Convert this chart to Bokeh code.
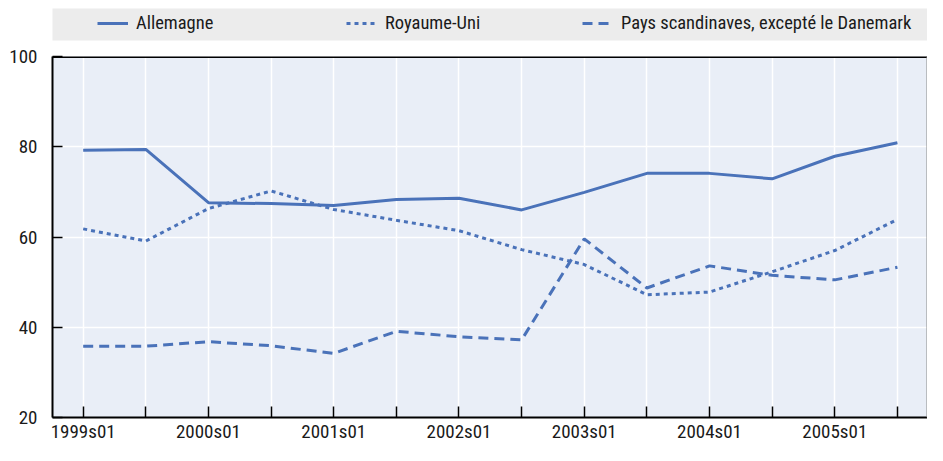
import numpy as np
from bokeh.plotting import figure
from bokeh.models import Range1d, FixedTicker, Legend, LegendItem, Span
from bokeh.layouts import column
from bokeh.embed import file_html
from bokeh.resources import INLINE

periods = ["1999s01", "1999s02", "2000s01", "2000s02", "2001s01", "2001s02", "2002s01",
           "2002s02", "2003s01", "2003s02", "2004s01", "2004s02", "2005s01", "2005s02"]
allemagne = [79.2, 79.4, 67.6, 67.4, 67.0, 68.3, 68.6, 66.0, 69.9, 74.1, 74.1, 72.9, 77.9, 80.9]
royaume_uni = [61.8, 59.1, 66.3, 70.2, 66.1, 63.7, 61.4, 57.2, 53.9, 47.2, 47.8, 52.3, 57.0, 63.9]
scandinaves = [35.8, 35.8, 36.8, 35.9, 34.2, 39.1, 37.9, 37.2, 59.6, 48.7, 53.6, 51.5, 50.5, 53.3]
series_names = ["Allemagne", "Royaume-Uni", "Pays scandinaves, excepté le Danemark"]
y_ticks = [20, 40, 60, 80, 100]

FONT = "Roboto Condensed"
BLUE = "#4a72b9"
TEXT = "#1a1a1a"
dashes = ["solid", "4 4", "10 6"]
W = 927
x = list(np.arange(len(periods)))
series = [allemagne, royaume_uni, scandinaves]

# ---------- legend band ----------
lg = figure(width=W, height=44, output_backend="svg", toolbar_location=None,
            x_axis_location=None, y_axis_location=None,
            x_range=Range1d(0, 1), y_range=Range1d(1000, 1001),
            min_border_left=52, min_border_right=0, min_border_top=8, min_border_bottom=4)
lg.background_fill_color = "#ececec"
lg.border_fill_color = "white"
lg.outline_line_color = None
lg.xgrid.visible = False
lg.ygrid.visible = False
offsets = [45, 294, 530]
for name, vals, dash, off in zip(series_names, series, dashes, offsets):
    r = lg.line(x=x, y=vals, line_color=BLUE, line_width=3, line_dash=dash)
    leg = Legend(items=[LegendItem(label=name, renderers=[r])], location=(off, 6),
                 padding=0, margin=0, spacing=0, border_line_color=None,
                 background_fill_alpha=0, glyph_width=31, glyph_height=20,
                 label_height=20, label_standoff=8,
                 label_text_font=FONT, label_text_font_size="18.5px",
                 label_text_color=TEXT)
    lg.add_layout(leg, "center")

# ---------- main chart ----------
p = figure(width=W, height=401, output_backend="svg", toolbar_location=None,
           x_range=Range1d(-0.49, 13.48), y_range=Range1d(20, 100),
           min_border_left=52, min_border_right=0, min_border_top=12, min_border_bottom=19)
p.background_fill_color = "#e9eef7"
p.border_fill_color = "white"
p.outline_line_color = None

for vals, dash in zip(series, dashes):
    p.line(x=x, y=vals, line_color=BLUE, line_width=3, line_dash=dash)

p.xaxis.ticker = FixedTicker(ticks=x)
p.xaxis.major_label_overrides = {int(i): (lab if i % 2 == 0 else "") for i, lab in zip(x, periods)}
p.yaxis.ticker = FixedTicker(ticks=y_ticks)

for ax in (p.xaxis[0], p.yaxis[0]):
    ax.axis_line_color = "black"
    ax.axis_line_width = 2
    ax.major_tick_line_color = "black"
    ax.major_tick_line_width = 1.5
    ax.major_tick_in = 11
    ax.major_tick_out = 0
    ax.minor_tick_line_color = None
    ax.major_label_text_font = FONT
    ax.major_label_text_font_size = "19px"
    ax.major_label_text_color = TEXT
p.yaxis.major_tick_in = 10
p.xaxis.major_label_standoff = 2
p.yaxis.major_label_standoff = 15

p.xgrid.grid_line_color = "white"
p.xgrid.grid_line_width = 1.5
p.ygrid.grid_line_color = "white"
p.ygrid.grid_line_width = 1.5

p.add_layout(Span(location=100, dimension="width", line_color="black", line_width=3))
p.add_layout(Span(location=13.48, dimension="height", line_color="#8a8a8a", line_width=2))

layout = column(lg, p, spacing=0)
open("out.html", "w").write(file_html(layout, INLINE))
